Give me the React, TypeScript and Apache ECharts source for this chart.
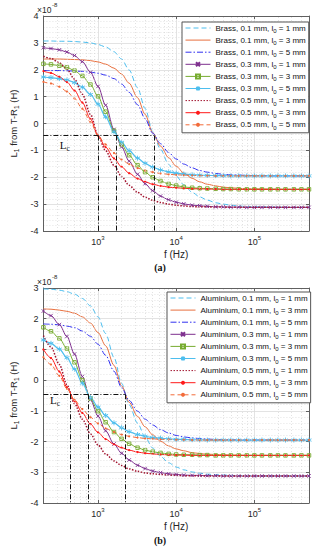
import React, { useEffect, useRef } from 'react';
import * as echarts from 'echarts';

// ---------- data ----------
const freqHz = [200, 250, 320, 400, 500, 630, 800, 1000, 1250, 1600, 2000, 2500, 3200, 4000, 5000, 6300, 8000, 10000, 12500, 16000, 20000, 25000, 32000, 40000, 50000, 63000, 80000, 100000, 125000, 160000, 200000, 250000, 320000, 400000, 500000];

const thicknessMm = ['0.1', '0.1', '0.1', '0.3', '0.3', '0.3', '0.5', '0.5', '0.5'];
const l0Mm = ['1', '3', '5', '1', '3', '5', '1', '3', '5'];

// (a) Brass, L1 in units of 1e-8 H
const brass01l1 = [3.07, 3.07, 3.06, 3.06, 3.05, 3.03, 3.00, 2.94, 2.85, 2.67, 2.40, 1.99, 1.33, 0.56, -0.30, -0.96, -1.52, -1.95, -2.28, -2.56, -2.73, -2.85, -2.95, -3.00, -3.04, -3.07, -3.09, -3.10, -3.10, -3.11, -3.11, -3.12, -3.12, -3.12, -3.12];
const brass01l3 = [2.40, 2.40, 2.40, 2.39, 2.38, 2.37, 2.34, 2.29, 2.21, 2.06, 1.84, 1.50, 0.96, 0.34, -0.34, -0.84, -1.27, -1.59, -1.84, -2.04, -2.17, -2.26, -2.32, -2.37, -2.39, -2.41, -2.43, -2.43, -2.44, -2.44, -2.45, -2.45, -2.45, -2.45, -2.45];
const brass01l5 = [1.97, 1.97, 1.97, 1.96, 1.95, 1.94, 1.91, 1.87, 1.80, 1.67, 1.47, 1.16, 0.70, 0.18, -0.36, -0.75, -1.08, -1.32, -1.51, -1.65, -1.75, -1.81, -1.86, -1.89, -1.91, -1.92, -1.93, -1.94, -1.94, -1.95, -1.95, -1.95, -1.95, -1.95, -1.95];
const brass03l1 = [2.82, 2.79, 2.74, 2.66, 2.53, 2.30, 1.91, 1.38, 0.68, -0.22, -0.87, -1.40, -1.89, -2.24, -2.50, -2.70, -2.84, -2.93, -2.99, -3.04, -3.06, -3.08, -3.10, -3.10, -3.11, -3.11, -3.12, -3.12, -3.12, -3.12, -3.12, -3.12, -3.12, -3.12, -3.12];
const brass03l3 = [2.22, 2.20, 2.15, 2.09, 1.97, 1.77, 1.45, 1.01, 0.44, -0.27, -0.78, -1.18, -1.55, -1.81, -2.00, -2.14, -2.25, -2.31, -2.36, -2.39, -2.41, -2.42, -2.43, -2.44, -2.44, -2.45, -2.45, -2.45, -2.45, -2.45, -2.45, -2.45, -2.45, -2.45, -2.45];
const brass03l5 = [1.73, 1.71, 1.67, 1.62, 1.52, 1.35, 1.08, 0.72, 0.25, -0.31, -0.70, -1.01, -1.29, -1.48, -1.62, -1.73, -1.80, -1.85, -1.88, -1.91, -1.92, -1.93, -1.94, -1.94, -1.95, -1.95, -1.95, -1.95, -1.95, -1.95, -1.95, -1.95, -1.95, -1.95, -1.95];
const brass05l1 = [2.50, 2.42, 2.26, 2.02, 1.65, 1.09, 0.34, -0.45, -1.01, -1.56, -1.97, -2.30, -2.56, -2.74, -2.86, -2.94, -3.00, -3.04, -3.07, -3.09, -3.10, -3.10, -3.11, -3.11, -3.12, -3.12, -3.12, -3.12, -3.12, -3.12, -3.12, -3.12, -3.12, -3.12, -3.12];
const brass05l3 = [1.95, 1.88, 1.74, 1.54, 1.23, 0.78, 0.17, -0.45, -0.88, -1.30, -1.61, -1.85, -2.05, -2.17, -2.26, -2.32, -2.37, -2.39, -2.41, -2.43, -2.43, -2.44, -2.44, -2.45, -2.45, -2.45, -2.45, -2.45, -2.45, -2.45, -2.45, -2.45, -2.45, -2.45, -2.45];
const brass05l5 = [1.55, 1.49, 1.37, 1.19, 0.93, 0.55, 0.05, -0.45, -0.78, -1.10, -1.34, -1.51, -1.66, -1.75, -1.81, -1.86, -1.89, -1.91, -1.92, -1.93, -1.94, -1.94, -1.95, -1.95, -1.95, -1.95, -1.95, -1.95, -1.95, -1.95, -1.95, -1.95, -1.95, -1.95, -1.95];

// (b) Aluminium
const alu01l1 = [2.97, 2.96, 2.93, 2.88, 2.80, 2.66, 2.42, 2.06, 1.52, 0.74, -0.10, -0.80, -1.40, -1.85, -2.21, -2.48, -2.69, -2.83, -2.92, -2.99, -3.03, -3.06, -3.08, -3.09, -3.10, -3.11, -3.11, -3.12, -3.12, -3.12, -3.12, -3.12, -3.12, -3.12, -3.12];
const alu01l3 = [2.32, 2.31, 2.28, 2.24, 2.18, 2.06, 1.86, 1.55, 1.12, 0.48, -0.18, -0.72, -1.18, -1.52, -1.78, -1.99, -2.14, -2.24, -2.30, -2.36, -2.39, -2.41, -2.42, -2.43, -2.44, -2.44, -2.45, -2.45, -2.45, -2.45, -2.45, -2.45, -2.45, -2.45, -2.45];
const alu01l5 = [1.83, 1.82, 1.80, 1.76, 1.71, 1.60, 1.43, 1.17, 0.81, 0.29, -0.24, -0.66, -1.01, -1.27, -1.46, -1.61, -1.72, -1.80, -1.85, -1.88, -1.90, -1.92, -1.93, -1.94, -1.94, -1.95, -1.95, -1.95, -1.95, -1.95, -1.95, -1.95, -1.95, -1.95, -1.95];
const alu03l1 = [2.25, 2.10, 1.81, 1.42, 0.85, 0.12, -0.64, -1.17, -1.65, -2.08, -2.38, -2.60, -2.77, -2.88, -2.96, -3.01, -3.05, -3.07, -3.09, -3.10, -3.10, -3.11, -3.11, -3.12, -3.12, -3.12, -3.12, -3.12, -3.12, -3.12, -3.12, -3.12, -3.12, -3.12, -3.12];
const alu03l3 = [1.72, 1.59, 1.36, 1.03, 0.58, 0.00, -0.60, -1.01, -1.37, -1.69, -1.91, -2.07, -2.20, -2.28, -2.33, -2.37, -2.40, -2.42, -2.43, -2.43, -2.44, -2.44, -2.45, -2.45, -2.45, -2.45, -2.45, -2.45, -2.45, -2.45, -2.45, -2.45, -2.45, -2.45, -2.45];
const alu03l5 = [1.31, 1.20, 1.01, 0.73, 0.36, -0.10, -0.57, -0.88, -1.15, -1.39, -1.55, -1.68, -1.77, -1.83, -1.87, -1.89, -1.91, -1.93, -1.93, -1.94, -1.94, -1.95, -1.95, -1.95, -1.95, -1.95, -1.95, -1.95, -1.95, -1.95, -1.95, -1.95, -1.95, -1.95, -1.95];
const alu05l1 = [1.45, 1.08, 0.51, -0.15, -0.76, -1.27, -1.75, -2.11, -2.40, -2.63, -2.78, -2.89, -2.97, -3.02, -3.05, -3.07, -3.09, -3.10, -3.11, -3.11, -3.12, -3.12, -3.12, -3.12, -3.12, -3.12, -3.12, -3.12, -3.12, -3.12, -3.12, -3.12, -3.12, -3.12, -3.12];
const alu05l3 = [1.00, 0.72, 0.28, -0.23, -0.68, -1.07, -1.43, -1.70, -1.92, -2.09, -2.20, -2.28, -2.34, -2.38, -2.40, -2.42, -2.43, -2.44, -2.44, -2.45, -2.45, -2.45, -2.45, -2.45, -2.45, -2.45, -2.45, -2.45, -2.45, -2.45, -2.45, -2.45, -2.45, -2.45, -2.45];
const alu05l5 = [0.75, 0.51, 0.14, -0.28, -0.64, -0.94, -1.21, -1.41, -1.57, -1.69, -1.77, -1.83, -1.87, -1.90, -1.91, -1.93, -1.93, -1.94, -1.94, -1.95, -1.95, -1.95, -1.95, -1.95, -1.95, -1.95, -1.95, -1.95, -1.95, -1.95, -1.95, -1.95, -1.95, -1.95, -1.95];

const brassValues = [brass01l1, brass01l3, brass01l5, brass03l1, brass03l3, brass03l5, brass05l1, brass05l3, brass05l5];
const aluValues = [alu01l1, alu01l3, alu01l5, alu03l1, alu03l3, alu03l5, alu05l1, alu05l3, alu05l5];

// L_c construction lines
const lcLevelA = -0.45;
const lcFreqsA = [1000, 1700, 5200];
const lcLabelA = [375, -0.81];
const lcLevelB = -0.46;
const lcFreqsB = [440, 745, 2200];
const lcLabelB = [282, -0.66];

const yRangeA = [-4, 4];
const yRangeB = [-4, 3];
const xRange = [200, 500000];

// ---------- styles ----------
const FONT = 'Liberation Sans, Arial, Helvetica, sans-serif';
const SERIF = 'Liberation Serif, Times New Roman, serif';
const AXIS_COLOR = '#606060';
const TEXT_COLOR = '#262626';

const X_PATH = 'path://M0 0 L10 10 M10 0 L0 10';
const SQ_PATH = 'path://M0 0 L10 0 L10 10 L0 10 Z';
const STAR_PATH = 'path://M5 0 L5 10 M0.67 2.5 L9.33 7.5 M0.67 7.5 L9.33 2.5';
const NO_MARK = 'circle';

const styles: any[] = [
  { color: '#4DBEEE', type: [5, 3], symbol: NO_MARK, width: 1 },
  { color: '#E8703F', type: 'solid', symbol: NO_MARK, width: 1 },
  { color: '#3030F0', type: [6, 2, 1.5, 2], symbol: NO_MARK, width: 1 },
  { color: '#7E2F8E', type: 'solid', symbol: X_PATH, size: 3.5, mark: 'stroke', width: 1 },
  { color: '#77AC30', type: 'solid', symbol: SQ_PATH, size: 3.5, mark: 'hollow', width: 1 },
  { color: '#4DBEEE', type: 'solid', symbol: STAR_PATH, size: 5, mark: 'stroke', width: 1.2 },
  { color: '#A2142F', type: [1.5, 1.5], symbol: NO_MARK, width: 1.5 },
  { color: '#FF1A1A', type: 'solid', symbol: 'circle', size: 2.2, mark: 'fill', width: 1 },
  { color: '#F26B3A', type: [4, 3], symbol: 'circle', size: 2.2, mark: 'fill', width: 1 },
];

const minorX: number[] = [];
[100, 1000, 10000, 100000].forEach((d) => {
  for (let m = 2; m <= 9; m++) {
    const v = m * d;
    if (v > xRange[0] && v < xRange[1]) minorX.push(v);
  }
});

function names(material: string) {
  return thicknessMm.map((t, i) => `${material}, ${t} mm, l₀ = ${l0Mm[i]} mm`);
}

function legendFormatter(name: string) {
  const parts = name.split('l₀');
  return `{t|${parts[0]}l}{s|0}{t|${parts[1]}}`;
}

function xTickFormatter(v: number) {
  const e = Math.log10(v);
  const r = Math.round(e);
  if (Math.abs(e - r) < 1e-6) return `{b|10}{s|${r}}`;
  return '';
}

function buildAxes(gridIndex: number, yRange: number[]) {
  const xs = [
    {
      type: 'log', logBase: 10, gridIndex, min: xRange[0], max: xRange[1], position: 'bottom',
      axisLine: { show: true, onZero: false, lineStyle: { color: AXIS_COLOR, width: 1 } },
      axisTick: { show: true, inside: true, length: 3, lineStyle: { color: AXIS_COLOR } },
      axisLabel: {
        formatter: xTickFormatter, margin: 4, color: TEXT_COLOR, fontFamily: FONT,
        rich: {
          b: { fontSize: 9, lineHeight: 13, fontFamily: FONT, color: TEXT_COLOR },
          s: { fontSize: 6, lineHeight: 6, verticalAlign: 'top', fontFamily: FONT, color: TEXT_COLOR },
        },
      },
      splitLine: { show: true, lineStyle: { color: '#dcdcdc', width: 0.8 } },
      name: 'f (Hz)', nameLocation: 'middle', nameGap: 18,
      nameTextStyle: { fontSize: 10, color: TEXT_COLOR, fontFamily: FONT },
    },
    {
      type: 'log', logBase: 10, gridIndex, min: xRange[0], max: xRange[1], position: 'top',
      axisLine: { show: true, onZero: false, lineStyle: { color: AXIS_COLOR, width: 1 } },
      axisTick: { show: true, inside: true, length: 3, lineStyle: { color: AXIS_COLOR } },
      axisLabel: { show: false },
      splitLine: { show: false },
    },
  ];
  const ys = [
    {
      type: 'value', gridIndex, min: yRange[0], max: yRange[1], interval: 1, position: 'left',
      axisLine: { show: true, onZero: false, lineStyle: { color: AXIS_COLOR, width: 1 } },
      axisTick: { show: true, inside: true, length: 3, lineStyle: { color: AXIS_COLOR } },
      axisLabel: { fontSize: 9, color: TEXT_COLOR, fontFamily: FONT, margin: 5 },
      splitLine: { show: true, lineStyle: { color: '#dcdcdc', width: 0.8 } },
      minorTick: { show: false, splitNumber: 5 },
      minorSplitLine: { show: true, lineStyle: { color: '#d2d2d2', width: 0.6, type: [1, 2] } },
      name: '{t|L}{s|1}{t| from T-R}{s|1}{t| (H)}', nameLocation: 'middle', nameGap: 17, nameRotate: 90,
      nameTextStyle: {
        color: TEXT_COLOR, fontFamily: FONT,
        rich: {
          t: { fontSize: 9.5, lineHeight: 13, fontFamily: FONT, color: TEXT_COLOR },
          s: { fontSize: 6.5, lineHeight: 6, verticalAlign: 'bottom', fontFamily: FONT, color: TEXT_COLOR },
        },
      },
    },
    {
      type: 'value', gridIndex, min: yRange[0], max: yRange[1], interval: 1, position: 'right',
      axisLine: { show: true, onZero: false, lineStyle: { color: AXIS_COLOR, width: 1 } },
      axisTick: { show: true, inside: true, length: 3, lineStyle: { color: AXIS_COLOR } },
      axisLabel: { show: false },
      splitLine: { show: false },
    },
  ];
  return { xs, ys };
}

function markerStyle(st: any) {
  if (!st.mark) return { color: st.color, opacity: 0 };
  if (st.mark === 'stroke') return { color: st.color, borderColor: st.color, borderWidth: 0.9 };
  if (st.mark === 'hollow') return { color: 'rgba(255,255,255,0)', borderColor: st.color, borderWidth: 0.9 };
  return { color: st.color, borderWidth: 0 };
}

function buildSeries(gridIndex: number, material: string, values: number[][], lcLevel: number, lcFreqs: number[], lcLabel: number[], yMin: number) {
  const axisIdx = gridIndex * 2;
  const nm = names(material);
  const out: any[] = [];
  out.push({
    type: 'line', xAxisIndex: axisIdx, yAxisIndex: axisIdx, data: [], silent: true, z: 1,
    markLine: {
      silent: true, symbol: ['none', 'none'], label: { show: false }, animation: false,
      lineStyle: { color: '#cfcfcf', width: 0.6, type: [1, 2] },
      data: minorX.map((v) => ({ xAxis: v })),
    },
  });
  values.forEach((vals, i) => {
    const st = styles[i];
    out.push({
      type: 'line', name: nm[i], xAxisIndex: axisIdx, yAxisIndex: axisIdx,
      data: freqHz.map((f, k) => [f, vals[k]]),
      smooth: 0.3, smoothMonotone: 'x',
      symbol: st.symbol, symbolSize: st.size || 3, showSymbol: !!st.mark,
      lineStyle: { color: st.color, width: st.width, type: st.type },
      itemStyle: markerStyle(st),
      emphasis: { disabled: true },
      z: 2,
    });
  });
  const maxF = Math.max(...lcFreqs);
  out.push({
    type: 'line', xAxisIndex: axisIdx, yAxisIndex: axisIdx, data: [], silent: true, z: 4,
    markLine: {
      silent: true, symbol: ['none', 'none'], label: { show: false }, animation: false,
      lineStyle: { color: '#111', width: 1, type: [5, 2, 1, 2] },
      data: [
        [{ coord: [xRange[0], lcLevel] }, { coord: [maxF, lcLevel] }],
        ...lcFreqs.map((f) => [{ coord: [f, lcLevel] }, { coord: [f, yMin] }]),
      ],
    },
    markPoint: {
      silent: true, symbol: 'circle', symbolSize: 0, animation: false,
      label: {
        show: true, position: 'inside', formatter: '{l|L}{c|c}',
        rich: {
          l: { fontSize: 11, fontFamily: SERIF, color: '#111', lineHeight: 14 },
          c: { fontSize: 7.5, fontFamily: SERIF, color: '#111', lineHeight: 7, verticalAlign: 'bottom' },
        },
      },
      data: [{ coord: lcLabel }],
    },
  });
  return out;
}

function buildLegend(material: string, left: number, top: number) {
  return {
    show: true, orient: 'vertical', left, top, itemWidth: 25, itemHeight: 5, itemGap: 2.1,
    padding: [2, 3, 2, 3], backgroundColor: '#fff', borderColor: '#555', borderWidth: 1,
    selectedMode: false, z: 10,
    lineStyle: { width: 1 },
    data: names(material), formatter: legendFormatter,
    textStyle: {
      fontSize: 8, color: '#111', fontFamily: FONT,
      rich: {
        t: { fontSize: 8, lineHeight: 12, fontFamily: FONT, color: '#111' },
        s: { fontSize: 6, lineHeight: 6, verticalAlign: 'bottom', fontFamily: FONT, color: '#111' },
      },
    },
  };
}

function sciLabel(top: number) {
  return [
    { type: 'text', left: 37, top: top + 3, style: { text: '×10', fontSize: 8.5, fontFamily: FONT, fill: TEXT_COLOR } },
    { type: 'text', left: 52, top, style: { text: '-8', fontSize: 6, fontFamily: FONT, fill: TEXT_COLOR } },
  ];
}

function panelLabel(text: string, y: number) {
  return {
    type: 'text', x: 160, y,
    style: { text, fontSize: 10, fontWeight: 'bold', fontFamily: SERIF, fill: '#111', align: 'center', verticalAlign: 'middle' },
  };
}

export default function App() {
  const ref = useRef<HTMLDivElement>(null);
  useEffect(() => {
    if (!ref.current) return;
    const chart = echarts.init(ref.current, undefined, { renderer: 'svg' });
    const a = buildAxes(0, yRangeA);
    const b = buildAxes(1, yRangeB);
    const option: any = {
      animation: false,
      backgroundColor: '#fff',
      grid: [
        { left: 35, top: 16, width: 274, height: 215 },
        { left: 35, top: 288, width: 274, height: 215 },
      ],
      xAxis: [...a.xs, ...b.xs],
      yAxis: [...a.ys, ...b.ys],
      legend: [buildLegend('Brass', 182, 22), buildLegend('Aluminium', 167, 292)],
      series: [
        ...buildSeries(0, 'Brass', brassValues, lcLevelA, lcFreqsA, lcLabelA, yRangeA[0]),
        ...buildSeries(1, 'Aluminium', aluValues, lcLevelB, lcFreqsB, lcLabelB, yRangeB[0]),
      ],
      graphic: [...sciLabel(2), ...sciLabel(274), panelLabel('(a)', 267), panelLabel('(b)', 540)],
    };
    chart.setOption(option);
    return () => chart.dispose();
  }, []);
  return <div ref={ref} style={{ position: 'fixed', left: 0, top: 0, width: 318, height: 550, background: '#fff' }} />;
}
